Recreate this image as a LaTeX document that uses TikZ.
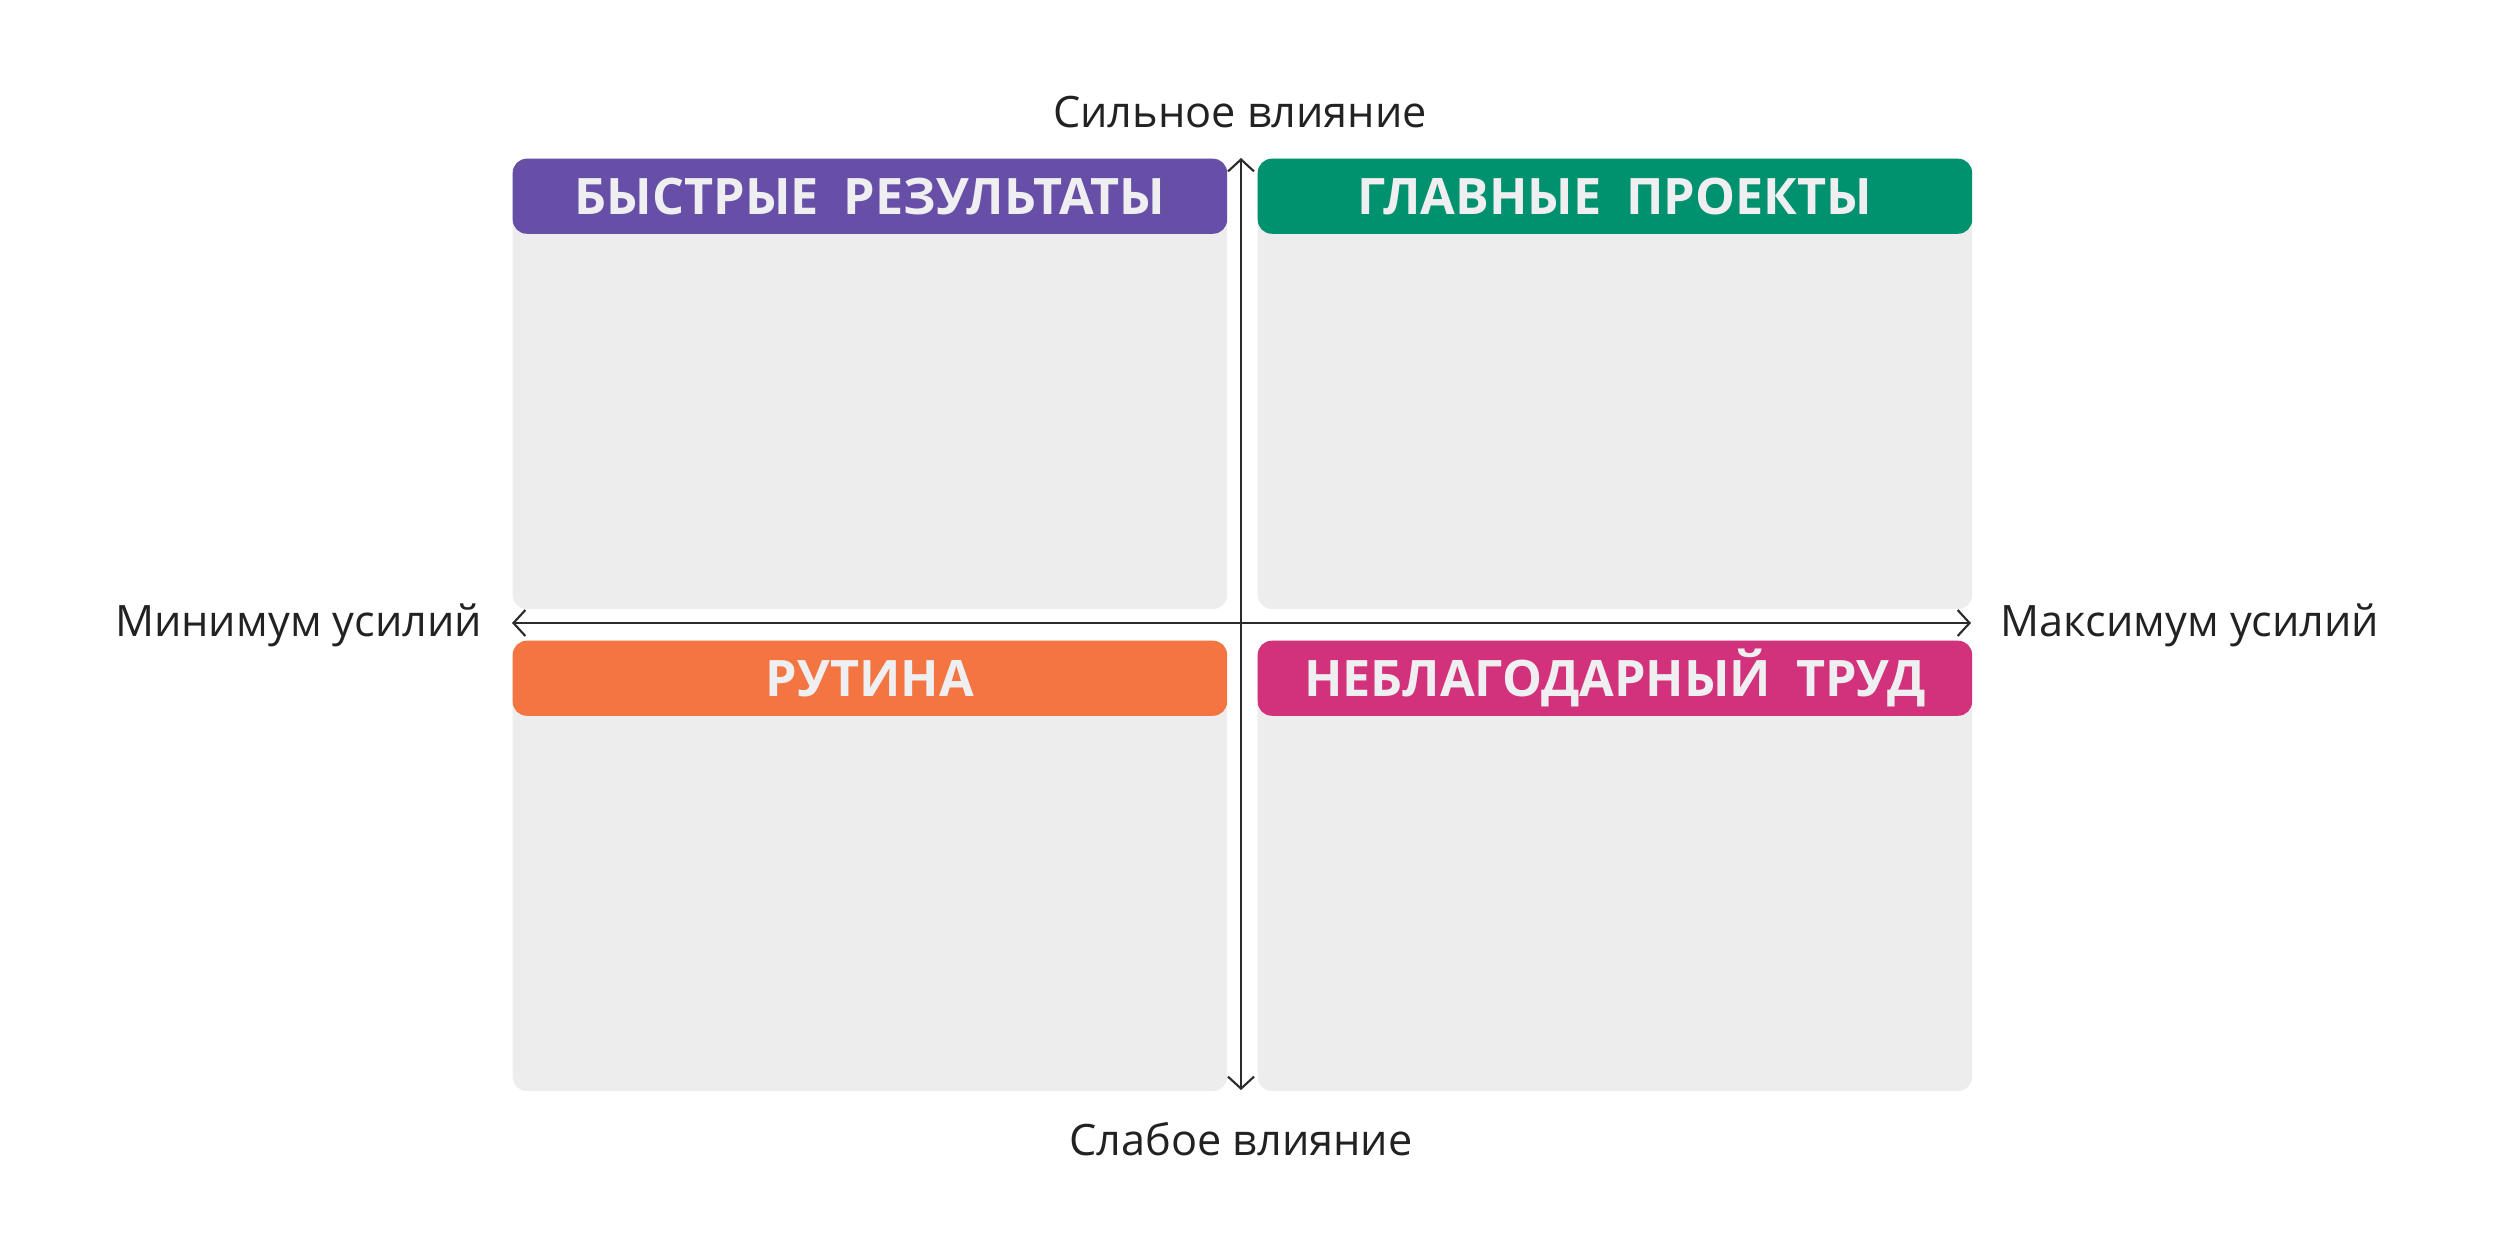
\documentclass[tikz,border=0pt]{standalone}
\usepackage{fontspec}
\setmainfont{Open Sans}
\usetikzlibrary{arrows.meta}
\definecolor{qgray}{HTML}{EDEDED}
\definecolor{qpurple}{HTML}{674EA7}
\definecolor{qgreen}{HTML}{00916F}
\definecolor{qorange}{HTML}{F37642}
\definecolor{qpink}{HTML}{D2317B}
\definecolor{qtext}{HTML}{EFEEF1}
\definecolor{axis}{HTML}{2B2B2B}
\definecolor{lbl}{HTML}{222222}
\newcommand{\wsp}{\hspace{0.25cm}}
\begin{document}
\begin{tikzpicture}[x=0.01cm,y=-0.01cm,
  panel/.style={fill=qgray, rounded corners=4pt, draw=none, inner sep=0pt,
    minimum width=7.14cm, minimum height=4.50cm, anchor=north west},
  header/.style={rounded corners=4pt, draw=none, inner sep=0pt, text=qtext,
    minimum width=7.14cm, minimum height=0.75cm, anchor=north west,
    font=\fontsize{14.3pt}{17pt}\selectfont\bfseries},
  axlabel/.style={text=lbl, inner sep=0pt, font=\fontsize{12.3pt}{15pt}\selectfont},
  axarrow/.style={draw=axis, line width=0.6pt,
    {Straight Barb[length=3.4pt,width=7.4pt]}-{Straight Barb[length=3.4pt,width=7.4pt]}}
]
\useasboundingbox[fill=white] (0,0) rectangle (2500,1250);
% panels
\node[panel] (p1) at (512,158) {};
\node[panel] (p2) at (1257,158) {};
\node[panel] (p3) at (512,640) {};
\node[panel] (p4) at (1257,640) {};
% headers
\node[header, fill=qpurple] (h1) at (512,158) {БЫСТРЫЕ\wsp РЕЗУЛЬТАТЫ};
\node[header, fill=qgreen] (h2) at (1257,158) {ГЛАВНЫЕ\wsp ПРОЕКТЫ};
\node[header, fill=qorange] (h3) at (512,640) {РУТИНА};
\node[header, fill=qpink] (h4) at (1257,640) {НЕБЛАГОДАРНЫЙ\wsp ТРУД};
% axes
\coordinate (xl) at (512,623);
\coordinate (xr) at (1971,623);
\coordinate (yt) at (1241,158);
\coordinate (yb) at (1241,1090);
\draw[axarrow] (xl) -- (xr);
\draw[axarrow] (yb) -- (yt);
% axis labels
\node[axlabel, anchor=base] (top) at (1240,127) {Сильное влияние};
\node[axlabel, anchor=base] (bot) at (1241,1155) {Слабое влияние};
\node[axlabel, anchor=base east] (lft) at (483,636) {Минимум усилий};
\node[axlabel, anchor=base west] (rgt) at (2000,636) {Максимум усилий};
\end{tikzpicture}
\end{document}
